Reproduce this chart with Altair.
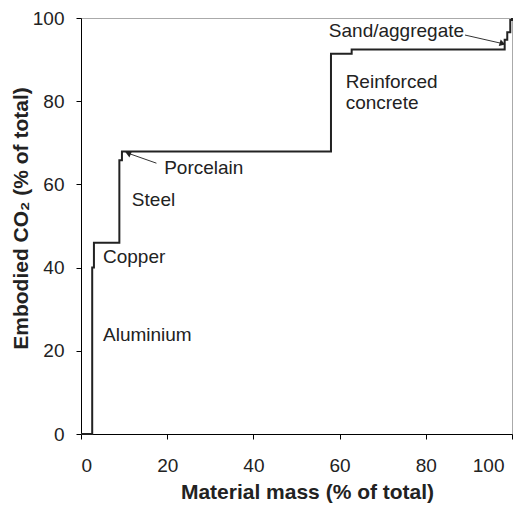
import altair as alt
import pandas as pd

# cumulative curve (step vertices)
mass_cum = [0, 2.6, 3.0, 8.9, 9.5, 58.0, 62.8, 98.3, 98.9, 99.6, 100]
co2_cum = [0, 40.0, 46.0, 65.8, 67.9, 91.4, 92.4, 94.8, 96.6, 99.5, 100]

# annotation labels
label_text = ["Aluminium", "Copper", "Steel", "Porcelain", "Reinforced", "concrete", "Sand/aggregate"]
label_x = [5.1, 5.1, 11.8, 19.3, 61.4, 61.4, 57.5]
label_y = [23.8, 42.6, 56.3, 63.9, 84.7, 79.6, 96.8]

# annotation arrows (tail -> head)
arrow_x = [17.5, 89.1]
arrow_y = [65.1, 95.9]
arrow_x2 = [10.9, 97.8]
arrow_y2 = [67.5, 93.85]
arrow_angle = [292, 107]

tick_values = [0, 20, 40, 60, 80, 100]

curve_df = pd.DataFrame({"mass": mass_cum, "co2": co2_cum})
label_df = pd.DataFrame({"label": label_text, "x": label_x, "y": label_y})
arrow_df = pd.DataFrame({"x": arrow_x, "y": arrow_y, "x2": arrow_x2, "y2": arrow_y2, "angle": arrow_angle})

xs = alt.Scale(domain=[0, 100], nice=False)
ys = alt.Scale(domain=[0, 100], nice=False)

curve = alt.Chart(curve_df).mark_line(
    interpolate="step-after", color="#222222", strokeWidth=2
).encode(
    x=alt.X("mass:Q", scale=xs, axis=alt.Axis(
        title="Material mass (% of total)", values=tick_values,
        labelPadding=17, titleX=226, titleY=58, titleBaseline="middle",
        labelOffset={"condition": {"test": "datum.value == 100", "value": -8}, "value": 0},
    )),
    y=alt.Y("co2:Q", scale=ys, axis=alt.Axis(
        title="Embodied CO₂ (% of total)", values=tick_values,
        labelPadding=12, titleX=-60, titleY=200, titleAngle=270,
        titleAlign="center", titleBaseline="middle",
    )),
)

labels = alt.Chart(label_df).mark_text(
    align="left", baseline="middle", fontSize=19, font="Liberation Sans", color="#222222"
).encode(
    x=alt.X("x:Q", scale=xs),
    y=alt.Y("y:Q", scale=ys),
    text="label:N",
)

arrows = alt.Chart(arrow_df).mark_rule(color="#333333", strokeWidth=1).encode(
    x=alt.X("x:Q", scale=xs), y=alt.Y("y:Q", scale=ys),
    x2="x2:Q", y2="y2:Q",
)

heads = alt.Chart(arrow_df).mark_point(
    shape="triangle-up", filled=True, color="#222222", size=45, opacity=1
).encode(
    x=alt.X("x2:Q", scale=xs), y=alt.Y("y2:Q", scale=ys),
    angle=alt.Angle("angle:Q", scale=None),
)

chart = alt.layer(curve, arrows, heads, labels).properties(
    width=431, height=416,
    autosize=alt.AutoSizeParams(type="none"),
    padding={"left": 73, "top": 10, "right": 8, "bottom": 70},
    background="white",
).configure_view(
    stroke="#aaaaaa", strokeWidth=1
).configure_axis(
    grid=False, domainColor="#000000", tickColor="#000000", tickSize=5,
    labelFont="Liberation Sans", labelFontSize=19, labelColor="#222222",
    titleFont="Liberation Sans", titleFontSize=21, titleFontWeight="bold", titleColor="#222222",
)

chart.save("out.html", embed_options={"renderer": "svg", "actions": False})
